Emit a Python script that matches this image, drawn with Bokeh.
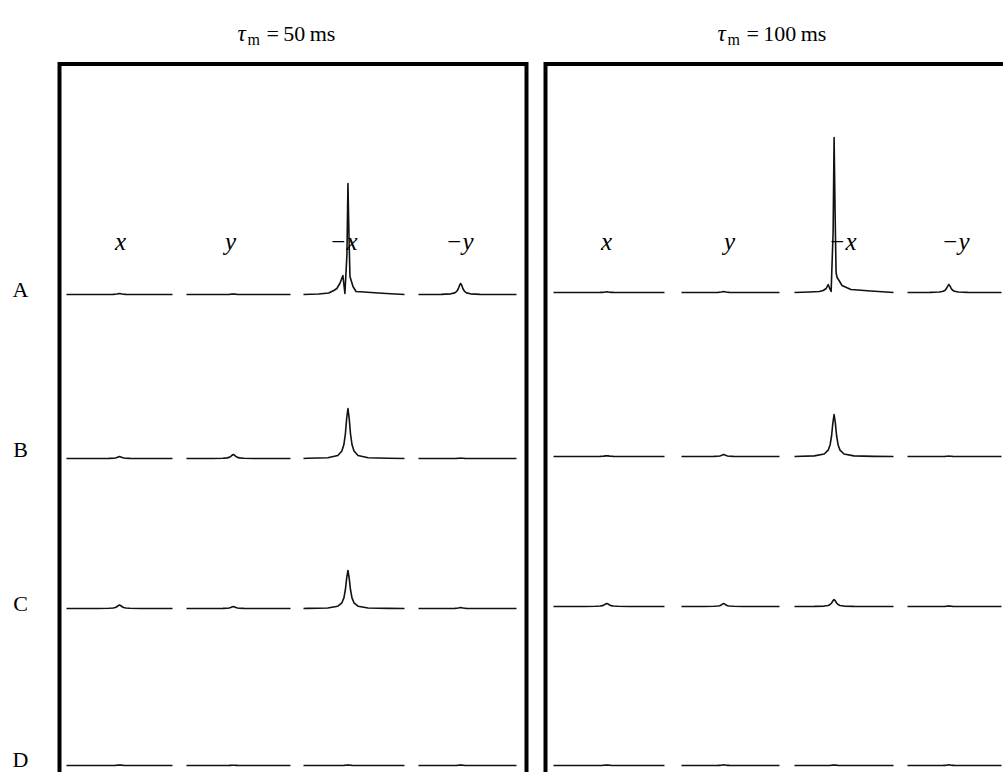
from bokeh.plotting import figure
from bokeh.models import Range1d, ColumnDataSource
from bokeh.core.properties import value
from bokeh.embed import file_html
from bokeh.resources import INLINE

# ---------------- data ----------------
tau_values = ["50", "100"]                      # mixing time, ms
column_labels = ["x", "y", "\u2212x", "\u2212y"]
row_labels = ["A", "B", "C", "D"]

# peak centre within each trace (frequency units, 0..100 across a trace)
peak_pos_50 = [50, 45, 44, 43]
peak_pos_100 = [48, 43, 40, 44]

# peak heights (intensity units) for columns x, y, -x, -y ; None = irregular peak below
height_50_A = [1.0, 0.5, None, 11.0]
height_50_B = [2.0, 4.0, 50.0, 0.4]
height_50_C = [3.5, 2.0, 38.0, 1.0]
height_50_D = [0.5, 0.3, 0.5, 0.5]
height_100_A = [0.6, 1.0, None, 8.0]
height_100_B = [0.8, 2.0, 42.0, 0.4]
height_100_C = [3.0, 3.0, 7.0, 0.5]
height_100_D = [0.5, 0.6, 0.5, 0.6]

# irregular (multiplet) -x peaks of row A
irregular_50_f = [0, 15, 25, 30, 33, 36, 39, 41, 43, 44, 45, 46, 49, 52, 60, 67, 82, 100]
irregular_50_h = [0, 0.5, 1.5, 4, 6, 11, 19, 1, 40, 111, 60, 18, 8, 3, 2.5, 2, 1, 0]
irregular_100_f = [0, 15, 25, 29, 32, 34, 36, 37, 39, 40, 41, 42, 43, 45, 48, 57, 77, 100]
irregular_100_h = [0, 0.5, 1, 2, 4, 8, 3, 1, 60, 155, 80, 20, 15, 12, 7, 3, 1.5, 0]

# observed line shape (offset in half-widths, relative height)
shape_offset = [-16, -8, -4, -2.4, -1.6, -1, -0.5, 0, 0.5, 1, 1.6, 2.4, 4, 8, 16]
shape_rel = [0.004, 0.015, 0.06, 0.15, 0.28, 0.5, 0.8, 1, 0.8, 0.5, 0.28, 0.15, 0.06, 0.015, 0.004]
peak_halfwidth = 2.5

# ---------------- layout (page pixel coordinates) ----------------
W, H = 1003, 772
col_span_50 = [(66, 172), (186, 290), (303, 404), (418, 516)]
col_span_100 = [(553, 664), (681, 779), (794, 893), (907, 1001)]
base_50 = [294, 458, 608, 765]
base_100 = [292, 456, 606, 765]
label_x_50 = [120, 230, 343, 459]
label_x_100 = [606, 729, 842, 955]
row_label_y = [289, 449, 603, 759]

p = figure(width=W, height=H, output_backend="svg", toolbar_location=None,
           x_range=Range1d(0, W), y_range=Range1d(H, 0),
           min_border=0, outline_line_color=None)
p.xaxis.visible = False
p.yaxis.visible = False
p.xgrid.visible = False
p.ygrid.visible = False
p.background_fill_color = "white"
p.border_fill_color = "white"


def lorentz_trace(center, height):
    f, h = [0.0], [0.0]
    for o, r in zip(shape_offset, shape_rel):
        x = center + o * peak_halfwidth
        if 0 < x < 100:
            f.append(x)
            h.append(height * r)
    f.append(100.0)
    h.append(0.0)
    return f, h


xs, ys = [], []
panels = [
    (col_span_50, base_50, peak_pos_50,
     [height_50_A, height_50_B, height_50_C, height_50_D], (irregular_50_f, irregular_50_h)),
    (col_span_100, base_100, peak_pos_100,
     [height_100_A, height_100_B, height_100_C, height_100_D], (irregular_100_f, irregular_100_h)),
]
for spans, bases, pos, heights, irregular in panels:
    for r, row in enumerate(heights):
        for c, hgt in enumerate(row):
            if hgt is None:
                f, h = irregular
            else:
                f, h = lorentz_trace(pos[c], hgt)
            left, right = spans[c]
            xs.append([left + fi / 100.0 * (right - left) for fi in f])
            ys.append([bases[r] - hi for hi in h])

p.multi_line(xs=xs, ys=ys, line_color="#111111", line_width=1.6, line_join="round")

# panel frames
frame_x = [[59, 59, 526, 526], [545, 545, 1012, 1012]]
frame_y = [[800, 63.5, 63.5, 800], [800, 63.5, 63.5, 800]]
p.multi_line(xs=frame_x, ys=frame_y, line_color="black", line_width=4, line_join="miter")

serif = value("Liberation Serif")

# column labels
lab = ColumnDataSource(dict(x=label_x_50 + label_x_100, y=[241] * 8,
                            t=column_labels + column_labels))
p.text(x="x", y="y", text="t", source=lab, text_font=serif, text_font_style="italic",
       text_font_size="25px", text_align="center", text_baseline="alphabetic", text_color="black")

# row labels
rl = ColumnDataSource(dict(x=[20] * 4, y=row_label_y, t=row_labels))
p.text(x="x", y="y", text="t", source=rl, text_font=serif, text_font_size="22px",
       text_align="center", text_baseline="middle", text_color="black")

# titles: tau_m = 50 ms / 100 ms
title_x = [237, 717]
tau_src = ColumnDataSource(dict(x=title_x, y=[33, 33], t=["\u03c4", "\u03c4"]))
p.text(x="x", y="y", text="t", source=tau_src, text_font=serif, text_font_style="italic",
       text_font_size="23px", text_align="left", text_baseline="alphabetic", text_color="black")
sub_src = ColumnDataSource(dict(x=[tx + 10 for tx in title_x], y=[39, 39], t=["m", "m"]))
p.text(x="x", y="y", text="t", source=sub_src, text_font=serif,
       text_font_size="16px", text_align="left", text_baseline="alphabetic", text_color="black")
rest_src = ColumnDataSource(dict(x=[tx + 29 for tx in title_x], y=[33, 33],
                                 t=["=\u2009" + v + "\u2009ms" for v in tau_values]))
p.text(x="x", y="y", text="t", source=rest_src, text_font=serif,
       text_font_size="22px", text_align="left", text_baseline="alphabetic", text_color="black")

open("out.html", "w").write(file_html(p, INLINE))
